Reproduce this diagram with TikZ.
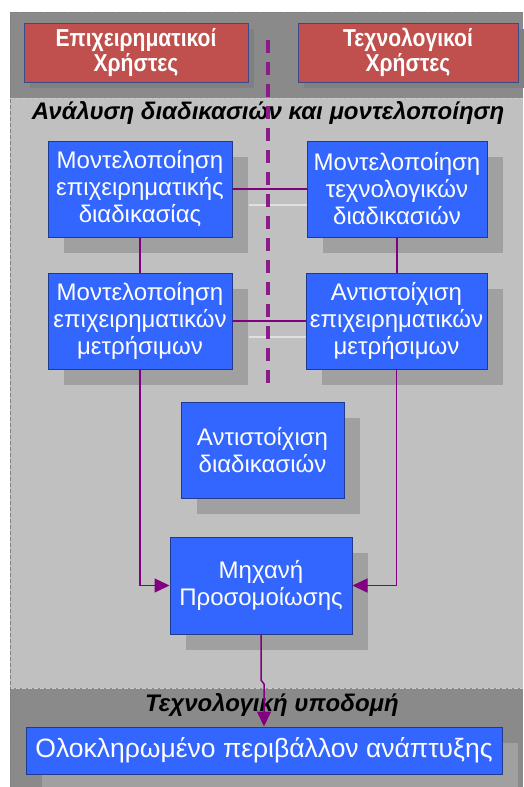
\documentclass[tikz,border=0pt]{standalone}
\usepackage{fontspec}
\setmainfont{Liberation Sans}
\newfontfamily\usernarrow[FakeStretch=0.86]{Liberation Sans}
\usetikzlibrary{arrows.meta,shadows,calc}
\definecolor{bandDark}{HTML}{8A8A8A}
\definecolor{bandLight}{HTML}{C0C0C0}
\definecolor{shadowGrey}{HTML}{A0A0A0}
\definecolor{procBlue}{HTML}{3366FF}
\definecolor{procEdge}{HTML}{1F3A8F}
\definecolor{userRed}{HTML}{C0504D}
\definecolor{userEdge}{HTML}{3A4A8A}
\definecolor{linkPurple}{HTML}{800080}
\definecolor{divPurple}{HTML}{8B1A8B}
\tikzset{
  x=1pt, y=-1pt,
  procbox/.style={draw=procEdge, line width=1pt, fill=procBlue, text=white,
    align=center, inner sep=0pt, font=\fontsize{24}{27}\selectfont,
    general shadow={fill=shadowGrey, shadow xshift=16pt, shadow yshift=-16pt}},
  userbox/.style={draw=userEdge, line width=1pt, fill=userRed, text=white,
    align=center, inner sep=0pt, font=\usernarrow\bfseries\fontsize{24.5}{25}\selectfont,
    general shadow={fill=black!50, shadow xshift=6pt, shadow yshift=-6pt}},
  link/.style={draw=linkPurple, line width=1.5pt},
  linkarrow/.style={link, -{Triangle[length=15pt,width=14pt]}},
  linkshade/.style={draw=white!88!black, line width=1.5pt},
  bandtitle/.style={font=\fontsize{24}{26}\selectfont\bfseries\itshape, text=black, inner sep=0pt},
  bandedge/.style={draw=white!80!black, line width=0.8pt, dash pattern=on 4pt off 2pt},
  outeredge/.style={draw=black!50, line width=1pt, dash pattern=on 4pt off 2pt},
}
\begin{document}
\begin{tikzpicture}
\useasboundingbox (0,0) rectangle (523,787);
\fill[white] (0,0) rectangle (523,787);

% layer bands
\fill[bandDark] (10,12) rectangle (523,98);
\fill[bandLight] (10,98) rectangle (523,688);
\fill[bandDark] (10,688) rectangle (523,787);
\draw[bandedge] (10,98) -- (523,98);
\draw[bandedge] (10,688) -- (523,688);
\draw[outeredge] (10,787) -- (10,12) -- (523,12);

% users
\node[userbox, minimum width=224pt, minimum height=59pt] (ubiz) at (136,52.5)
  {Επιχειρηματικοί\\Χρήστες};
\node[userbox, minimum width=220pt, minimum height=59pt] (utech) at (408,52.5)
  {Τεχνολογικοί\\Χρήστες};

% band titles
\node[bandtitle] (tanalysis) at (268,113) {Ανάλυση διαδικασιών και μοντελοποίηση};
\node[bandtitle] (tinfra) at (272,705) {Τεχνολογική υποδομή};

% processes
\node[procbox, minimum width=184pt, minimum height=96pt] (bpm) at (140,189)
  {Μοντελοποίηση\\επιχειρηματικής\\διαδικασίας};
\node[procbox, minimum width=180pt, minimum height=96pt] (tpm) at (397,189)
  {Μοντελοποίηση\\τεχνολογικών\\διαδικασιών};
\node[procbox, minimum width=184pt, minimum height=96pt] (bmm) at (140,321)
  {Μοντελοποίηση\\επιχειρηματικών\\μετρήσιμων};
\node[procbox, minimum width=181pt, minimum height=96pt] (bmap) at (396.5,321)
  {Αντιστοίχιση\\επιχειρηματικών\\μετρήσιμων};
\node[procbox, minimum width=163pt, minimum height=96pt] (pmap) at (262.5,450)
  {Αντιστοίχιση\\διαδικασιών};
\node[procbox, minimum width=182pt, minimum height=97pt] (sim) at (261,585.5)
  {Μηχανή\\Προσομοίωσης};
\node[procbox, minimum width=476pt, minimum height=47pt,
      font=\fontsize{26.5}{28}\selectfont] (ide) at (264,750.5)
  {Ολοκληρωμένο περιβάλλον ανάπτυξης};

% faint offsets of the horizontal links
\draw[linkshade] ($(bpm.east)+(16,16)$) -- ($(tpm.west)+(0,16)$);
\draw[linkshade] ($(bmm.east)+(16,16)$) -- ($(bmap.west)+(0,16)$);

% links
\draw[link] (bpm) -- (tpm);
\draw[link] (bmm) -- (bmap);
\draw[link] (bpm.south) -- (bmm.north);
\draw[link] (tpm.south) -- (tpm.south |- bmap.north);
\draw[linkarrow] (bmm.south) -- (bmm.south |- sim.west) -- (sim.west);
\draw[linkarrow] (bmap.south) -- (bmap.south |- sim.east) -- (sim.east);
\coordinate (jogtop) at (261,680);
\coordinate (jogbot) at (264,684);
\draw[linkarrow] (sim.south) -- (jogtop) -- (jogbot) -- (jogbot |- ide.north);

% divider between business and technology sides
\coordinate (divtop) at (268,40);
\coordinate (divbot) at (268,385);
\draw[draw=divPurple, line width=3.5pt, dash pattern=on 13pt off 9pt] (divtop) -- (divbot);
\end{tikzpicture}
\end{document}
